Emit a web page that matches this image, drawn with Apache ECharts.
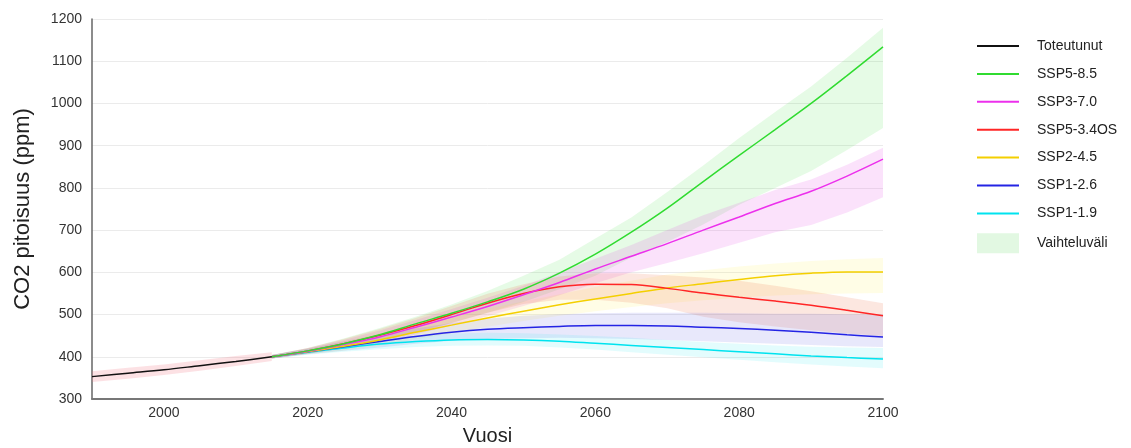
<!DOCTYPE html>
<html>
<head>
<meta charset="utf-8">
<title>CO2 pitoisuus</title>
<script src="https://cdn.jsdelivr.net/npm/echarts@6/dist/echarts.min.js"></script>
<style>
  html, body { margin: 0; padding: 0; background: #ffffff; }
  #chart { width: 1131px; height: 448px; }
</style>
</head>
<body>
<div id="chart"></div>
<script>
// Observed concentrations 1990–2015 (ppm)
const histYears = [1990, 1995, 2000, 2005, 2010, 2015];
const histCO2   = [353, 361, 369, 379, 389, 400];
const histLow   = [340, 348, 357, 367, 378, 390];
const histHigh  = [366, 374, 382, 392, 402, 411];

// Scenario years
const years = [2015, 2020, 2025, 2030, 2035, 2040, 2045, 2050, 2055, 2060,
               2065, 2070, 2075, 2080, 2085, 2090, 2095, 2100];

// Scenario median concentrations (ppm)
const ssp585  = [400, 414, 431, 452, 478, 503, 530, 560, 598, 643, 695, 752, 815, 877, 938, 1000, 1066, 1134];
const ssp370  = [400, 413, 429, 447, 470, 494, 519, 547, 576, 608, 638, 668, 700, 731, 763, 792, 828, 868];
const ssp534  = [400, 414, 431, 451, 474, 500, 527, 550, 566, 572, 571, 562, 551, 541, 532, 522, 510, 497];
const ssp245  = [400, 412, 425, 440, 458, 475, 492, 508, 523, 537, 550, 563, 573, 583, 592, 598, 601, 601];
const ssp126  = [400, 412, 424, 436, 448, 458, 465, 469, 472, 474, 474, 473, 470, 467, 463, 458, 452, 447];
const ssp119  = [400, 411, 421, 430, 436, 440, 441, 440, 437, 432, 427, 422, 417, 412, 407, 402, 398, 395];

// Range limits (ppm)
const ssp585Low  = [396, 408, 421, 438, 458, 480, 504, 530, 560, 592, 635, 672, 713, 760, 800, 840, 890, 942];
const ssp585High = [404, 421, 443, 468, 495, 524, 556, 592, 630, 680, 730, 790, 853, 918, 980, 1040, 1108, 1179];
const ssp370Low  = [396, 407, 419, 434, 453, 474, 496, 520, 546, 574, 600, 622, 645, 670, 695, 712, 742, 778];
const ssp370High = [404, 420, 440, 462, 487, 513, 540, 568, 600, 632, 665, 700, 735, 765, 795, 820, 855, 895];
const ssp534Low  = [396, 408, 421, 438, 457, 480, 504, 525, 535, 535, 528, 515, 495, 482, 472, 463, 455, 449];
const ssp534High = [404, 421, 442, 466, 492, 520, 549, 572, 590, 598, 598, 593, 588, 580, 568, 555, 541, 527];
const ssp245Low  = [396, 406, 415, 427, 441, 456, 471, 485, 497, 508, 518, 527, 534, 540, 545, 548, 550, 551];
const ssp245High = [404, 419, 436, 455, 476, 495, 514, 531, 548, 565, 580, 595, 605, 614, 621, 627, 631, 634];
const ssp126Low  = [396, 406, 414, 422, 431, 438, 442, 444, 445, 444, 442, 440, 437, 434, 431, 428, 425, 423];
const ssp126High = [404, 419, 436, 453, 467, 480, 490, 497, 501, 503, 504, 504, 504, 503, 502, 502, 501, 500];
const ssp119Low  = [396, 405, 412, 418, 423, 426, 427, 426, 422, 417, 411, 405, 399, 393, 387, 382, 377, 373];
const ssp119High = [404, 418, 431, 442, 450, 455, 457, 456, 453, 449, 445, 440, 435, 431, 427, 424, 422, 421];

// Axis ranges
const yMin = 300, yMax = 1200, yStep = 100;
const xMin = 1990, xMax = 2100;

const FONT = "'Liberation Sans', Arial, sans-serif";

const pairs = (xs, ys) => xs.map((x, i) => [x, ys[i]]);

// Shaded range drawn as one polygon through the axis scales
function band(name, xs, low, high, fill) {
  return {
    type: 'custom',
    name: name,
    silent: true,
    z: 1,
    color: fill,
    itemStyle: { color: fill },
    encode: { x: 0, y: [1, 2] },
    data: xs.map((x, i) => [x, low[i], high[i]]),
    renderItem: function (params, api) {
      if (params.dataIndex !== 0) return null;
      const pts = [];
      for (let i = 0; i < xs.length; i++) pts.push(api.coord([xs[i], high[i]]));
      for (let i = xs.length - 1; i >= 0; i--) pts.push(api.coord([xs[i], low[i]]));
      return {
        type: 'polygon',
        shape: { points: pts },
        style: { fill: fill, stroke: null }
      };
    }
  };
}

function line(name, xs, ys, color) {
  return {
    type: 'line', name: name, data: pairs(xs, ys), smooth: 0.35,
    symbol: 'none', color: color,
    lineStyle: { color: color, width: 1.5 }, z: 3
  };
}

const series = [
  band('hist-range', histYears, histLow, histHigh, 'rgba(240,120,130,0.22)'),
  band('Vaihteluväli', years, ssp585Low, ssp585High, 'rgba(60,225,60,0.13)'),
  band('b370-range', years, ssp370Low, ssp370High, 'rgba(230,60,230,0.15)'),
  band('b245-range', years, ssp245Low, ssp245High, 'rgba(255,240,60,0.13)'),
  band('b534-range', years, ssp534Low, ssp534High, 'rgba(240,110,70,0.17)'),
  band('b126-range', years, ssp126Low, ssp126High, 'rgba(90,90,230,0.14)'),
  band('b119-range', years, ssp119Low, ssp119High, 'rgba(40,230,240,0.13)'),
  line('SSP1-1.9', years, ssp119, '#00e3ef'),
  line('SSP1-2.6', years, ssp126, '#2424e4'),
  line('SSP2-4.5', years, ssp245, '#f4cf00'),
  line('SSP5-3.4OS', years, ssp534, '#ff2626'),
  line('SSP3-7.0', years, ssp370, '#ec30ec'),
  line('SSP5-8.5', years, ssp585, '#30db30'),
  line('Toteutunut', histYears, histCO2, '#111111')
];

const hideSymbol = { color: 'transparent', borderColor: 'transparent', borderWidth: 0, opacity: 0 };

const chart = echarts.init(document.getElementById('chart'), null, { renderer: 'canvas' });

chart.setOption({
  backgroundColor: '#ffffff',
  animation: false,
  textStyle: { fontFamily: FONT },
  grid: { left: 92, right: 248, top: 19, bottom: 49, containLabel: false, outerBoundsMode: 'none' },
  legend: {
    orient: 'vertical',
    left: 971,
    top: 33,
    itemWidth: 42,
    itemHeight: 20,
    itemGap: 11.9,
    textStyle: { fontFamily: FONT, fontSize: 14, color: '#222', padding: [0, 0, 0, 13] },
    data: [
      { name: 'Toteutunut', itemStyle: hideSymbol },
      { name: 'SSP5-8.5', itemStyle: hideSymbol },
      { name: 'SSP3-7.0', itemStyle: hideSymbol },
      { name: 'SSP5-3.4OS', itemStyle: hideSymbol },
      { name: 'SSP2-4.5', itemStyle: hideSymbol },
      { name: 'SSP1-2.6', itemStyle: hideSymbol },
      { name: 'SSP1-1.9', itemStyle: hideSymbol },
      { name: 'Vaihteluväli', icon: 'rect', itemStyle: { color: '#e2f8e2', borderWidth: 0 } }
    ],
    selectedMode: false
  },
  xAxis: {
    type: 'value',
    min: xMin, max: xMax, interval: 10,
    name: 'Vuosi',
    nameLocation: 'middle',
    nameGap: 27,
    nameTextStyle: { fontFamily: FONT, fontSize: 20, color: '#222' },
    axisLine: { show: true, onZero: false, lineStyle: { color: '#777', width: 2 } },
    axisTick: { show: false },
    splitLine: { show: false },
    axisLabel: {
      fontFamily: FONT, fontSize: 14, color: '#333', margin: 7,
      showMinLabel: true, showMaxLabel: true,
      formatter: v => (v % 20 === 0 ? String(v) : '')
    }
  },
  yAxis: {
    type: 'value',
    min: yMin, max: yMax, interval: yStep,
    name: 'CO2 pitoisuus (ppm)',
    nameLocation: 'middle',
    nameGap: 58,
    nameTextStyle: { fontFamily: FONT, fontSize: 22, color: '#222' },
    axisLine: { show: true, lineStyle: { color: '#666', width: 1.5 } },
    axisTick: { show: false },
    splitLine: { show: true, lineStyle: { color: '#ebebeb', width: 1 } },
    axisLabel: { fontFamily: FONT, fontSize: 14, color: '#333', margin: 10, formatter: v => String(v) }
  },
  series: series
});
</script>
</body>
</html>
